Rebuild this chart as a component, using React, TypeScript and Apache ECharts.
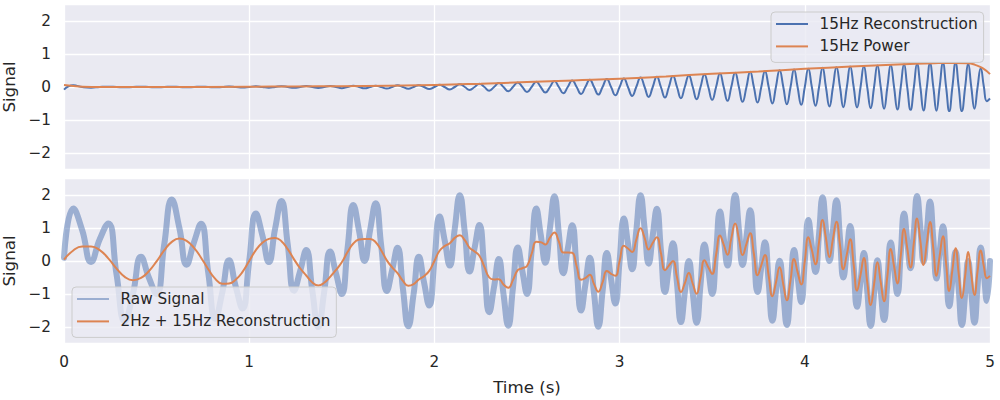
import React, { useEffect, useRef } from "react";
import * as echarts from "echarts";

// Sample times (s), at quarter-cycle points of the chirp visible in the signals
const T = [
  0, 0.05, 0.098, 0.146, 0.193, 0.239, 0.284, 0.328, 0.372, 0.416,
  0.458, 0.5, 0.541, 0.582, 0.623, 0.662, 0.702, 0.74, 0.779, 0.817,
  0.854, 0.891, 0.928, 0.964, 1, 1.036, 1.071, 1.106, 1.14, 1.174,
  1.208, 1.242, 1.275, 1.308, 1.341, 1.373, 1.405, 1.437, 1.469, 1.5,
  1.531, 1.562, 1.593, 1.623, 1.653, 1.683, 1.713, 1.743, 1.772, 1.801,
  1.83, 1.859, 1.888, 1.916, 1.944, 1.972, 2, 2.028, 2.055, 2.083,
  2.11, 2.137, 2.164, 2.19, 2.217, 2.243, 2.27, 2.296, 2.322, 2.348,
  2.373, 2.399, 2.424, 2.45, 2.475, 2.5, 2.525, 2.55, 2.574, 2.599,
  2.624, 2.648, 2.672, 2.696, 2.72, 2.744, 2.768, 2.792, 2.815, 2.839,
  2.862, 2.885, 2.908, 2.931, 2.954, 2.977, 3, 3.023, 3.045, 3.068,
  3.09, 3.113, 3.135, 3.157, 3.179, 3.201, 3.223, 3.245, 3.266, 3.288,
  3.31, 3.331, 3.352, 3.374, 3.395, 3.416, 3.437, 3.458, 3.479, 3.5,
  3.521, 3.542, 3.562, 3.583, 3.603, 3.624, 3.644, 3.664, 3.685, 3.705,
  3.725, 3.745, 3.765, 3.785, 3.805, 3.825, 3.844, 3.864, 3.884, 3.903,
  3.923, 3.942, 3.961, 3.981, 4, 4.019, 4.038, 4.058, 4.077, 4.096,
  4.114, 4.133, 4.152, 4.171, 4.19, 4.208, 4.227, 4.245, 4.264, 4.282,
  4.301, 4.319, 4.337, 4.356, 4.374, 4.392, 4.41, 4.428, 4.446, 4.464,
  4.482, 4.5, 4.518, 4.536, 4.553, 4.571, 4.589, 4.606, 4.624, 4.641,
  4.659, 4.676, 4.694, 4.711, 4.728, 4.746, 4.763, 4.78, 4.797, 4.814,
  4.831, 4.848, 4.866, 4.882, 4.899, 4.916, 4.933, 4.95, 4.967, 4.983,
  5,
];

// Top panel: 15Hz reconstruction (blue)
const RECON_15HZ = [
  -0.08, 0.05, 0, -0.02, 0, 0.01, 0, -0.01, 0, 0.01,
  0, -0.01, 0, 0.01, 0, -0.01, 0, 0.01, 0, -0.01,
  0, 0.015, 0, -0.015, 0, 0.02, 0, -0.02, 0, 0.025,
  0, -0.025, 0, 0.03, 0, -0.03, 0, 0.03, 0, -0.035,
  0, 0.035, 0, -0.04, 0, 0.04, 0, -0.045, 0, 0.05,
  0, -0.05, 0, 0.055, 0, -0.06, 0, 0.065, 0, -0.075,
  0, 0.08, 0, -0.09, 0, 0.1, 0, -0.11, 0, 0.12,
  0, -0.13, 0, 0.14, 0, -0.15, 0, 0.16, 0, -0.17,
  0, 0.18, 0, -0.19, 0, 0.2, 0, -0.21, 0, 0.22,
  0, -0.23, 0, 0.24, 0, -0.25, 0, 0.26, 0, -0.27,
  0, 0.29, 0, -0.3, 0, 0.31, 0, -0.32, 0, 0.33,
  0, -0.34, 0, 0.35, 0, -0.37, 0, 0.38, 0, -0.39,
  0, 0.41, 0, -0.42, 0, 0.43, 0, -0.45, 0, 0.46,
  0, -0.47, 0, 0.48, 0, -0.5, 0, 0.51, 0, -0.52,
  0, 0.53, 0, -0.54, 0, 0.55, 0, -0.57, 0, 0.58,
  0, -0.59, 0, 0.6, 0, -0.61, 0, 0.62, 0, -0.62,
  0, 0.63, 0, -0.64, 0, 0.65, 0, -0.66, 0, 0.67,
  0, -0.68, 0, 0.69, 0, -0.69, 0, 0.7, 0, -0.71,
  0, 0.71, 0, -0.72, 0, 0.72, 0, -0.73, 0, 0.73,
  0, -0.73, 0, 0.71, 0, -0.66, 0, 0.57, 0, -0.43,
  -0.35,
];

// Top panel: 15Hz power (orange)
const POWER_T = [0, 0.05, 0.1, 0.2, 0.5, 1.0, 1.25, 1.5, 1.75, 2.0, 2.25, 2.5, 2.75, 3.0, 3.25, 3.5, 3.75, 4.0, 4.25, 4.5, 4.7, 4.8, 4.88, 4.92, 4.96, 5.0];
const POWER_15HZ = [0.06, 0.03, 0.01, 0.0, 0.0, 0.01, 0.015, 0.025, 0.04, 0.06, 0.1, 0.15, 0.2, 0.25, 0.32, 0.4, 0.47, 0.55, 0.62, 0.68, 0.72, 0.73, 0.72, 0.67, 0.57, 0.39];

// Bottom panel: raw signal (light blue band)
const RAW_SIGNAL = [
  0.1, 1.59, 0.94, -0.03, 0.66, 1.14, -0.42, -1.83, -1.0, 0.13,
  -0.5, -1.0, 0.49, 1.86, 1.0, -0.11, 0.57, 1.13, -0.36, -1.75,
  -0.97, 0.02, -0.79, -1.44, 0, 1.44, 0.78, -0.03, 0.98, 1.82,
  0.5, -0.9, -0.31, 0.33, -0.91, -2.0, -0.93, 0.29, -0.38, -1.0,
  0.38, 1.7, 0.92, 0.0, 0.94, 1.75, 0.45, -0.91, -0.27, 0.4,
  -0.84, -1.98, -0.99, 0.13, -0.65, -1.35, 0, 1.35, 0.64, -0.14,
  0.98, 1.99, 0.88, -0.32, 0.4, 1.09, -0.25, -1.55, -0.79, 0.06,
  -1.0, -1.96, -0.82, 0.41, -0.31, -1.0, 0.31, 1.59, 0.8, -0.05,
  1.0, 1.96, 0.83, -0.37, 0.37, 1.08, -0.23, -1.5, -0.73, 0.1,
  -0.99, -1.99, -0.92, 0.24, -0.55, -1.29, 0, 1.29, 0.54, -0.25,
  0.91, 1.99, 0.99, -0.08, 0.78, 1.58, 0.33, -0.94, -0.2, 0.54,
  -0.69, -1.85, -0.96, 0.0, -0.97, -1.87, -0.71, 0.5, -0.26, -1.0,
  0.26, 1.5, 0.7, -0.14, 0.96, 2.0, 0.97, -0.12, 0.73, 1.54,
  0.31, -0.94, -0.19, 0.57, -0.64, -1.81, -0.93, 0.01, -0.99, -1.94,
  -0.82, 0.33, -0.47, -1.24, 0, 1.24, 0.46, -0.33, 0.82, 1.93,
  0.99, 0.0, 0.94, 1.84, 0.69, -0.5, 0.29, 1.06, -0.18, -1.39,
  -0.6, 0.24, -0.89, -1.97, -1.0, 0.02, -0.91, -1.79, -0.63, 0.56,
  -0.23, -1.0, 0.23, 1.44, 0.62, -0.22, 0.9, 1.97, 1.0, -0.02,
  0.91, 1.8, 0.65, -0.53, 0.27, 1.05, -0.16, -1.37, -0.56, 0.28,
  -0.85, -1.94, -0.99, 0.0, -0.96, -1.87, -0.75, 0.41, -0.4, -1.21,
  0,
];

// Bottom panel: 2Hz + 15Hz reconstruction (orange)
const RECON_2_15HZ = [
  0.04, 0.32, 0.44, 0.44, 0.33, 0.08, -0.23, -0.48, -0.58, -0.51,
  -0.31, -0.01, 0.32, 0.58, 0.68, 0.61, 0.4, 0.1, -0.25, -0.54,
  -0.69, -0.68, -0.56, -0.33, 0, 0.33, 0.55, 0.67, 0.7, 0.6,
  0.36, 0.05, -0.22, -0.44, -0.65, -0.74, -0.66, -0.48, -0.27, -0.04,
  0.27, 0.53, 0.65, 0.67, 0.67, 0.57, 0.32, 0.02, -0.19, -0.37,
  -0.6, -0.75, -0.7, -0.56, -0.46, -0.3, 0, 0.31, 0.45, 0.54,
  0.7, 0.78, 0.63, 0.4, 0.29, 0.16, -0.18, -0.5, -0.56, -0.55,
  -0.71, -0.81, -0.58, -0.28, -0.22, -0.15, 0.22, 0.58, 0.57, 0.5,
  0.71, 0.86, 0.59, 0.26, 0.26, 0.25, -0.16, -0.57, -0.52, -0.42,
  -0.7, -0.93, -0.65, -0.3, -0.39, -0.45, 0, 0.46, 0.38, 0.27,
  0.64, 0.99, 0.7, 0.35, 0.55, 0.72, 0.24, -0.28, -0.14, 0.0,
  -0.49, -0.94, -0.68, -0.36, -0.69, -0.99, -0.51, 0.02, -0.19, -0.39,
  0.19, 0.77, 0.5, 0.19, 0.68, 1.14, 0.69, 0.18, 0.52, 0.84,
  0.22, -0.43, -0.13, 0.18, -0.45, -1.07, -0.66, -0.19, -0.71, -1.19,
  -0.58, 0.06, -0.33, -0.71, 0, 0.72, 0.33, -0.1, 0.58, 1.24,
  0.7, 0.12, 0.67, 1.19, 0.49, -0.25, 0.2, 0.66, -0.12, -0.9,
  -0.42, 0.09, -0.63, -1.33, -0.71, -0.04, -0.64, -1.22, -0.45, 0.36,
  -0.16, -0.68, 0.15, 0.97, 0.4, -0.2, 0.56, 1.29, 0.6, -0.12,
  0.54, 1.18, 0.38, -0.45, 0.15, 0.75, -0.08, -0.91, -0.27, 0.39,
  -0.38, -1.12, -0.44, 0.27, -0.41, -1.03, -0.31, 0.32, -0.17, -0.52,
  -0.45,
];

const FONT = "'DejaVu Sans', 'Liberation Sans', sans-serif";
const TEXT = "#262626";
const BLUE = "#4c72b0";
const ORANGE = "#dd8452";
const RAW_C = "rgba(76,114,176,0.5)";
const BG = "#eaeaf2";

export default function App() {
  const ref = useRef<HTMLDivElement>(null);

  useEffect(() => {
    if (!ref.current) return;
    const chart = echarts.init(ref.current, null, { renderer: "svg" });
    const pair = (xs: number[], ys: number[]) => xs.map((x, i) => [x, ys[i]]);
    const fmtY = (v: number) => (v < 0 ? "\u2212" + Math.abs(v) : String(v));

    const yAxis = (gridIndex: number) => ({
      type: "value",
      gridIndex,
      min: -2.5,
      max: 2.5,
      splitNumber: 5,
      name: "Signal",
      nameLocation: "middle",
      nameGap: 42,
      nameTextStyle: { fontFamily: FONT, fontSize: 16.67, color: TEXT },
      axisLine: { show: false },
      axisTick: { show: false },
      axisLabel: {
        fontFamily: FONT,
        fontSize: 15.28,
        color: TEXT,
        margin: 13,
        showMinLabel: false,
        showMaxLabel: false,
        formatter: fmtY,
      },
      splitLine: { show: true, lineStyle: { color: "#ffffff", width: 1.3 } },
    });

    const xAxis = (gridIndex: number, labels: boolean) => ({
      type: "value",
      gridIndex,
      min: 0,
      max: 5,
      interval: 1,
      name: labels ? "Time (s)" : "",
      nameLocation: "middle",
      nameGap: 35,
      nameTextStyle: { fontFamily: FONT, fontSize: 16.67, color: TEXT },
      axisLine: { show: false },
      axisTick: { show: false },
      axisLabel: { show: labels, fontFamily: FONT, fontSize: 15.28, color: TEXT, margin: 11 },
      splitLine: { show: true, lineStyle: { color: "#ffffff", width: 1.3 } },
    });

    const legendCommon = {
      orient: "vertical",
      icon: "rect",
      itemWidth: 32,
      itemHeight: 2,
      itemGap: 0.4,
      selectedMode: false,
      padding: [1, 6, 5, 5],
      backgroundColor: "rgba(234,234,242,0.8)",
      borderColor: "#cccccc",
      borderWidth: 1,
      borderRadius: 4,
      itemStyle: { borderWidth: 0 },
      textStyle: {
        fontFamily: FONT,
        fontSize: 15.28,
        color: TEXT,
        lineHeight: 22,
        padding: [0, 0, 0, 6.6],
      },
    };

    const lineBase = {
      type: "line",
      showSymbol: false,
      symbol: "none",
      smooth: 0.5,
      silent: true,
      emphasis: { disabled: true },
    };

    const gridBase = {
      left: 64,
      width: 926,
      height: 165,
      show: true,
      backgroundColor: BG,
      borderWidth: 0,
      containLabel: false,
      outerBoundsMode: "none",
    };

    chart.setOption({
      animation: false,
      backgroundColor: "#ffffff",
      grid: [
        { ...gridBase, top: 4.5 },
        { ...gridBase, top: 178.5 },
      ],
      xAxis: [xAxis(0, false), xAxis(1, true)],
      yAxis: [yAxis(0), yAxis(1)],
      legend: [
        { ...legendCommon, left: 771, top: 12, data: ["15Hz Reconstruction", "15Hz Power"] },
        { ...legendCommon, left: 72, top: 287, data: ["Raw Signal", "2Hz + 15Hz Reconstruction"] },
      ],
      series: [
        {
          ...lineBase,
          name: "15Hz Reconstruction",
          xAxisIndex: 0,
          yAxisIndex: 0,
          data: pair(T, RECON_15HZ),
          itemStyle: { color: BLUE },
          lineStyle: { color: BLUE, width: 2 },
        },
        {
          ...lineBase,
          name: "15Hz Power",
          xAxisIndex: 0,
          yAxisIndex: 0,
          data: pair(POWER_T, POWER_15HZ),
          itemStyle: { color: ORANGE },
          lineStyle: { color: ORANGE, width: 2 },
        },
        {
          ...lineBase,
          name: "Raw Signal",
          xAxisIndex: 1,
          yAxisIndex: 1,
          data: pair(T, RAW_SIGNAL),
          itemStyle: { color: RAW_C },
          lineStyle: { color: RAW_C, width: 6, cap: "round", join: "round" },
        },
        {
          ...lineBase,
          name: "2Hz + 15Hz Reconstruction",
          xAxisIndex: 1,
          yAxisIndex: 1,
          data: pair(T, RECON_2_15HZ),
          itemStyle: { color: ORANGE },
          lineStyle: { color: ORANGE, width: 2 },
        },
      ],
    });

    return () => chart.dispose();
  }, []);

  return (
    <div
      ref={ref}
      style={{ position: "absolute", left: 0, top: 0, width: 1000, height: 400 }}
    />
  );
}
